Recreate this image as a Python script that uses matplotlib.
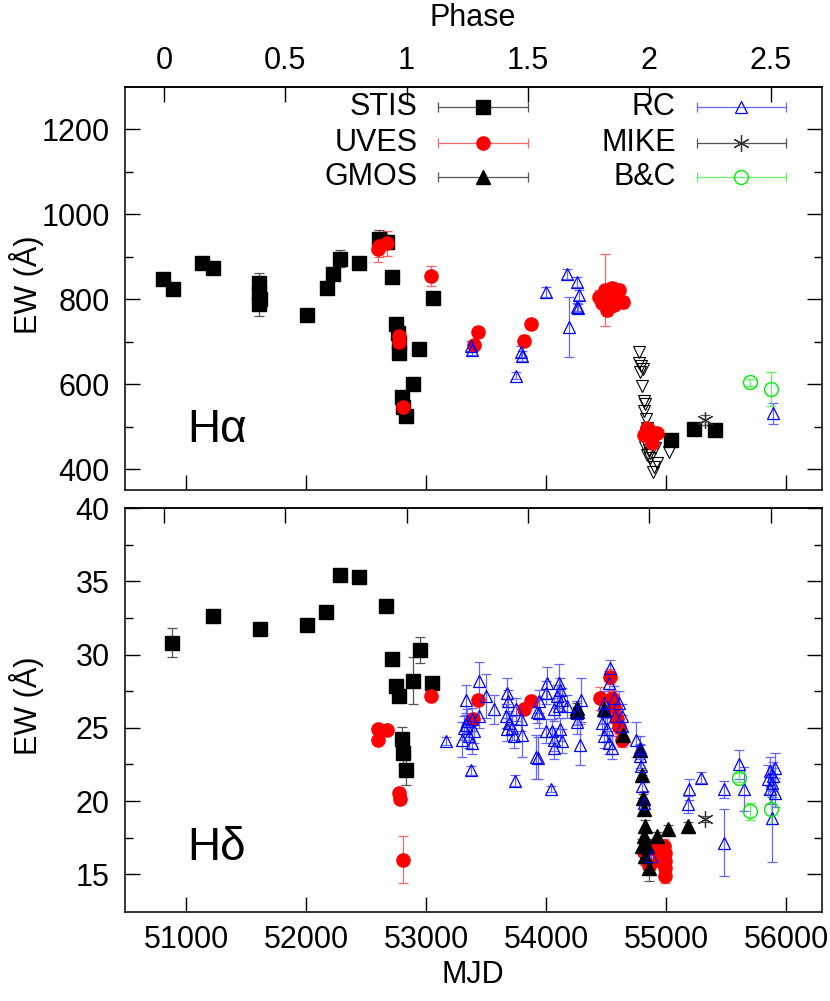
import matplotlib
matplotlib.use("Agg")
import matplotlib.pyplot as plt
from matplotlib import font_manager
import numpy as np

names = {f.name for f in font_manager.fontManager.ttflist}
FAM = 'Liberation Sans' if 'Liberation Sans' in names else 'DejaVu Sans'
plt.rcParams['font.family'] = [FAM, 'DejaVu Sans']

# ---------------- data: H-alpha (top panel) ----------------
ha_stis_mjd = [50806, 50889, 51134, 51222, 51611, 51611, 51616, 51611, 52004, 52171, 52226, 52282,
               52443, 52609, 52673, 52715, 52748, 52765, 52770, 52775, 52798, 52809, 52836, 52889,
               52944, 53056, 55041, 55232, 55404]
ha_stis_ew = [847, 824, 886, 873, 838, 815, 800, 790, 763, 827, 859, 895,
              886, 943, 935, 852, 742, 720, 697, 673, 571, 547, 525, 600,
              682, 802, 469, 495, 493]
ha_stis_err = [8, 8, 12, 8, 25, 10, 10, 30, 6, 6, 8, 20,
               8, 20, 10, 10, 8, 8, 8, 8, 8, 8, 8, 6,
               6, 6, 6, 6, 6]

ha_uves_mjd = [52601, 52610, 52673, 53039, 52775, 52778, 52811, 53400, 53433, 53815, 53876,
               54439, 54495, 54522, 54550, 54578, 54606, 54639, 54508, 54564, 54467, 54589, 54550,
               54841, 54924, 54814, 54883, 54855]
ha_uves_ew = [918, 925, 932, 855, 714, 700, 547, 692, 724, 703, 741,
              806, 822, 799, 826, 810, 822, 794, 775, 787, 791, 799, 814,
              496, 485, 481, 461, 492]
ha_uves_err = [30, 25, 30, 24, 12, 12, 14, 10, 12, 12, 10,
               15, 85, 15, 15, 20, 15, 15, 15, 12, 12, 12, 12,
               12, 10, 10, 10, 10]

ha_gmos_mjd = [54773, 54778, 54795, 54805, 54786, 54800, 54814, 54822, 54814, 54833, 54841, 54833,
               54850, 54828, 54855, 54841, 54869, 54910, 54924, 54896, 54888, 55027, 54869, 54833]
ha_gmos_ew = [677, 651, 643, 635, 630, 596, 561, 554, 537, 518, 496, 485,
              469, 453, 445, 434, 426, 449, 414, 406, 394, 441, 438, 461]

ha_rc_mjd = [53377, 53380, 53751, 53793, 53796, 54001, 54176, 54259, 54273, 54259, 54262, 54190, 55895]
ha_rc_ew = [690, 680, 620, 677, 667, 818, 860, 841, 810, 782, 779, 735, 532]
ha_rc_err = [12, 12, 8, 12, 12, 12, 12, 12, 12, 10, 10, 70, 25]

ha_mike_mjd = [55327]
ha_mike_ew = [516]
ha_mike_err = [12]

ha_bc_mjd = [55696, 55876]
ha_bc_ew = [605, 588]
ha_bc_err = [8, 40]

# ---------------- data: H-delta (bottom panel) ----------------
hd_stis_mjd = [50884, 51222, 51616, 52003, 52169, 52286, 52444, 52669, 52715, 52748, 52775,
               52803, 52811, 52836, 52892, 52948, 53053]
hd_stis_ew = [30.8, 32.65, 31.75, 32.0, 32.9, 35.45, 35.3, 33.3, 29.7, 27.84, 27.2,
              24.25, 23.25, 22.1, 28.2, 30.3, 28.07]
hd_stis_err = [1.0, 0.2, 0.2, 0.3, 0.2, 0.2, 0.2, 0.2, 0.3, 0.3, 0.3,
               0.8, 0.8, 1.0, 1.6, 0.9, 0.3]

hd_uves_mjd = [52603, 52670, 52600, 53039, 52775, 52780, 52811, 53433, 53391, 53876, 53815,
               54531, 54448, 54550, 54564, 54592, 54611, 54633,
               54814, 54911, 54980, 54994, 54994, 54994, 54994, 54938, 54855]
hd_uves_ew = [24.9, 24.85, 24.2, 27.2, 20.57, 20.16, 16.0, 26.9, 25.6, 26.86, 26.25,
              28.5, 27.0, 27.05, 26.4, 25.6, 25.07, 24.2,
              16.5, 16.7, 16.93, 16.48, 15.9, 15.45, 14.88, 16.0, 15.57]
hd_uves_err = [0.2, 0.2, 0.2, 0.3, 0.3, 0.3, 1.6, 0.3, 0.3, 0.3, 0.3,
               0.5, 0.8, 0.5, 0.5, 0.5, 0.5, 0.5,
               0.8, 0.5, 0.5, 0.5, 0.5, 0.5, 0.5, 0.5, 0.5]

hd_gmos_mjd = [54254, 54257, 54481, 54642, 54781, 54800, 54805, 54814, 54828, 54814, 54924,
               55016, 55182, 54828, 54855, 54841, 54800]
hd_gmos_ew = [26.36, 26.13, 26.25, 24.5, 23.5, 21.8, 20.2, 19.43, 18.3, 17.6, 17.6,
              18.07, 18.3, 16.25, 15.45, 16.93, 16.93]
hd_gmos_err = [0.3, 0.3, 0.3, 0.3, 0.3, 0.3, 0.3, 0.3, 0.4, 0.4, 0.3,
               0.3, 0.3, 0.6, 0.9, 0.5, 0.5]

hd_rc_mjd = [53164, 53330, 53441, 53497, 53566, 53316, 53344, 53385, 53358, 53302, 53385, 53330,
             53399, 53372, 53441, 53676, 53685, 53663, 53690, 53718, 53746, 53788, 53732, 53796,
             53676, 53740, 53913, 53926, 54009, 53996, 53940, 53940, 54106, 54120, 54092, 54134,
             54106, 54065, 54175, 54051, 53996, 54120, 54065, 54134, 54065, 53934, 54045, 54287,
             54259, 54281, 54259, 54531, 54522, 54481, 54495, 54467, 54508, 54481, 54522, 54550,
             54578, 54633, 54606, 54633, 54564, 54750, 54786, 54786, 54795, 54800, 54814, 54878,
             55188, 55182, 55290, 55479, 55485, 55604, 55646, 55867, 55909, 55895, 55881, 55867,
             55909, 55881, 55853]
hd_rc_ew = [24.1, 26.9, 28.2, 27.15, 26.25, 25.0, 25.45, 25.57, 24.43, 24.2, 23.98, 25.2,
            24.77, 22.1, 25.8, 27.4, 26.8, 25.8, 25.34, 25.0, 26.25, 25.57, 24.43, 24.54,
            24.9, 21.4, 23.0, 26.1, 28.07, 27.4, 26.8, 26.0, 28.07, 27.6, 27.15, 26.93,
            26.47, 26.25, 26.47, 24.77, 24.77, 24.9, 24.2, 24.1, 23.64, 22.95, 20.85, 26.93,
            25.4, 23.86, 26.0, 29.1, 28.07, 26.7, 26.13, 25.34, 24.9, 24.43, 23.98, 23.64,
            25.8, 25.8, 26.7, 25.1, 27.05, 24.2, 23.64, 23.07, 22.4, 21.0, 19.9, 16.25,
            20.8, 19.77, 21.6, 20.8, 17.16, 22.5, 20.8, 22.04, 22.27, 21.7, 21.25, 20.8,
            20.57, 18.87, 21.48]
hd_rc_err = [0.3, 1.0, 1.3, 1.5, 1.0, 0.8, 0.8, 0.8, 0.8, 1.2, 0.8, 0.8,
             0.8, 0.3, 0.8, 1.0, 0.8, 0.8, 0.8, 0.8, 0.8, 0.8, 0.8, 1.5,
             0.8, 0.4, 1.5, 0.8, 1.1, 0.8, 0.8, 1.0, 1.3, 0.8, 0.8, 0.8,
             0.8, 0.8, 0.8, 0.8, 0.8, 0.8, 0.8, 0.8, 0.8, 1.45, 0.2, 1.5,
             0.8, 1.4, 0.8, 0.5, 0.8, 0.8, 0.8, 0.8, 0.8, 0.8, 0.8, 0.8,
             0.8, 0.8, 0.8, 0.8, 0.8, 1.2, 0.8, 0.8, 0.8, 0.8, 0.8, 0.5,
             0.7, 0.6, 0.4, 0.6, 2.3, 1.0, 1.5, 1.0, 1.0, 1.0, 1.0, 1.0,
             1.0, 3.0, 1.0]

hd_mike_mjd = [55327]
hd_mike_ew = [18.8]
hd_mike_err = [0.2]

hd_bc_mjd = [55604, 55696, 55876]
hd_bc_ew = [21.6, 19.3, 19.43]
hd_bc_err = [0.3, 0.6, 1.0]

# ---------------- phase ----------------
T0 = 50814.0
PERIOD = 2022.7
phase_ticks = [0, 0.5, 1, 1.5, 2, 2.5]
phase_labels = ['0', '0.5', '1', '1.5', '2', '2.5']
mjd_ticks = [51000, 52000, 53000, 54000, 55000, 56000]


def mjd2ph(m):
    return (np.asarray(m) - T0) / PERIOD


def ph2mjd(p):
    return np.asarray(p) * PERIOD + T0


# ---------------- styles ----------------
BLUE = '#0000ff'
RED = '#ff0000'
GREEN = '#00ee00'
STY = {
    'STIS': dict(marker='s', ms=9.5, mfc='black', mec='black', color='black', ecolor='#555555'),
    'UVES': dict(marker='o', ms=9.5, mfc=RED, mec=RED, color=RED, ecolor='#ff6666'),
    'GMOS': dict(marker='^', ms=10, mfc='black', mec='black', color='black', ecolor='#555555'),
    'GMOSv': dict(marker='v', ms=9, mfc='none', mec='black', color='black', ecolor='#555555', mew=0.8),
    'RC': dict(marker='^', ms=9, mfc='none', mec=BLUE, color=BLUE, ecolor='#6666ff', mew=0.9),
    'MIKE': dict(marker=(6, 2, 0), ms=12, mfc='#333333', mec='#333333', color='#333333', ecolor='#555555', mew=0.9),
    'B&C': dict(marker='o', ms=10, mfc='none', mec=GREEN, color=GREEN, ecolor='#66ee66', mew=1.0),
}


def eb(ax, x, y, err, key):
    s = dict(STY[key])
    ecol = s.pop('ecolor')
    ax.errorbar(x, y, yerr=err, ls='none', capsize=3.5, elinewidth=0.9, capthick=0.9,
                ecolor=ecol, **s)


FS = 22
fig = plt.figure(figsize=(8.30, 10.01), dpi=100)
L, W = 125 / 830, 697 / 830
ax1 = fig.add_axes([L, 1 - 490 / 1001, W, 403 / 1001])
ax2 = fig.add_axes([L, 1 - 912 / 1001, W, 404 / 1001])

# top panel
eb(ax1, ha_stis_mjd, ha_stis_ew, ha_stis_err, 'STIS')
eb(ax1, ha_uves_mjd, ha_uves_ew, ha_uves_err, 'UVES')
s = dict(STY['GMOSv']); s.pop('ecolor')
ax1.plot(ha_gmos_mjd, ha_gmos_ew, ls='none', **s)
eb(ax1, ha_rc_mjd, ha_rc_ew, ha_rc_err, 'RC')
eb(ax1, ha_mike_mjd, ha_mike_ew, ha_mike_err, 'MIKE')
eb(ax1, ha_bc_mjd, ha_bc_ew, ha_bc_err, 'B&C')

# bottom panel
eb(ax2, hd_stis_mjd, hd_stis_ew, hd_stis_err, 'STIS')
eb(ax2, hd_uves_mjd, hd_uves_ew, hd_uves_err, 'UVES')
eb(ax2, hd_gmos_mjd, hd_gmos_ew, hd_gmos_err, 'GMOS')
eb(ax2, hd_rc_mjd, hd_rc_ew, hd_rc_err, 'RC')
eb(ax2, hd_mike_mjd, hd_mike_ew, hd_mike_err, 'MIKE')
eb(ax2, hd_bc_mjd, hd_bc_ew, hd_bc_err, 'B&C')

for ax in (ax1, ax2):
    ax.set_xlim(50490, 56300)
    ax.set_xticks(mjd_ticks)
    ax.tick_params(axis='x', which='both', direction='in', top=False, length=11, width=1,
                   labelsize=FS, pad=9)
    ax.tick_params(axis='y', which='major', direction='in', right=True, length=11, width=1,
                   labelsize=FS, pad=11)
    ax.tick_params(axis='y', which='minor', direction='in', right=True, length=6, width=1)
    for sp in ax.spines.values():
        sp.set_linewidth(1.1)
    sec = ax.secondary_xaxis('top', functions=(mjd2ph, ph2mjd))
    sec.set_xticks(phase_ticks)
    sec.tick_params(direction='in', length=11, width=1, labelsize=FS, pad=8)
    sec.spines['top'].set_linewidth(1.1)
    if ax is ax1:
        sec.set_xticklabels(phase_labels)
    else:
        sec.set_xticklabels([])

ax1.set_xticklabels([])
ax2.set_xticklabels([str(t) for t in mjd_ticks])

ax1.set_ylim(351, 1300)
ax1.set_yticks([400, 600, 800, 1000, 1200])
ax1.set_yticks(np.arange(500, 1300, 200), minor=True)
ax2.set_ylim(12.43, 40)
ax2.set_yticks([15, 20, 25, 30, 35, 40])
ax2.set_yticks(np.arange(17.5, 40, 5), minor=True)

ax1.text(0.090, 0.12, 'H\u03b1', transform=ax1.transAxes, fontsize=33, va='baseline', ha='left')
ax2.text(0.090, 0.129, 'H\u03b4', transform=ax2.transAxes, fontsize=33, va='baseline', ha='left')

fig.text(26 / 830, 1 - 285 / 1001, 'EW (\u00c5)', rotation=90, ha='center', va='center', fontsize=FS)
fig.text(26 / 830, 1 - 706 / 1001, 'EW (\u00c5)', rotation=90, ha='center', va='center', fontsize=FS)
fig.text(473 / 830, 1 - 975 / 1001, 'MJD', ha='center', va='center', fontsize=FS)
fig.text(473 / 830, 1 - 18 / 1001, 'Phase', ha='center', va='center', fontsize=FS)

# legend (manual, gnuplot style)
leg_names = ['STIS', 'UVES', 'GMOS', 'RC', 'MIKE', 'B&C']
col_text_x = [0.420, 0.790]
col_line = [(0.449, 0.578), (0.821, 0.948)]
rows_y = [0.950, 0.861, 0.777]
for i, name in enumerate(leg_names):
    c, r = divmod(i, 3)
    y = rows_y[r]
    ax1.text(col_text_x[c], y, name, transform=ax1.transAxes, fontsize=FS, ha='right', va='center')
    st = dict(STY[name])
    ecol = st.pop('ecolor')
    x0, x1 = col_line[c]
    ax1.plot([x0, x1], [y, y], transform=ax1.transAxes, color=ecol, lw=0.9, clip_on=False)
    ax1.plot([x0, x1], [y, y], transform=ax1.transAxes, ls='none', marker='|', ms=7,
             mec=ecol, mew=0.9, clip_on=False)
    st.pop('color')
    ax1.plot([(x0 + x1) / 2], [y], transform=ax1.transAxes, ls='none', clip_on=False, **st)

fig.savefig('out.png', dpi=100)
